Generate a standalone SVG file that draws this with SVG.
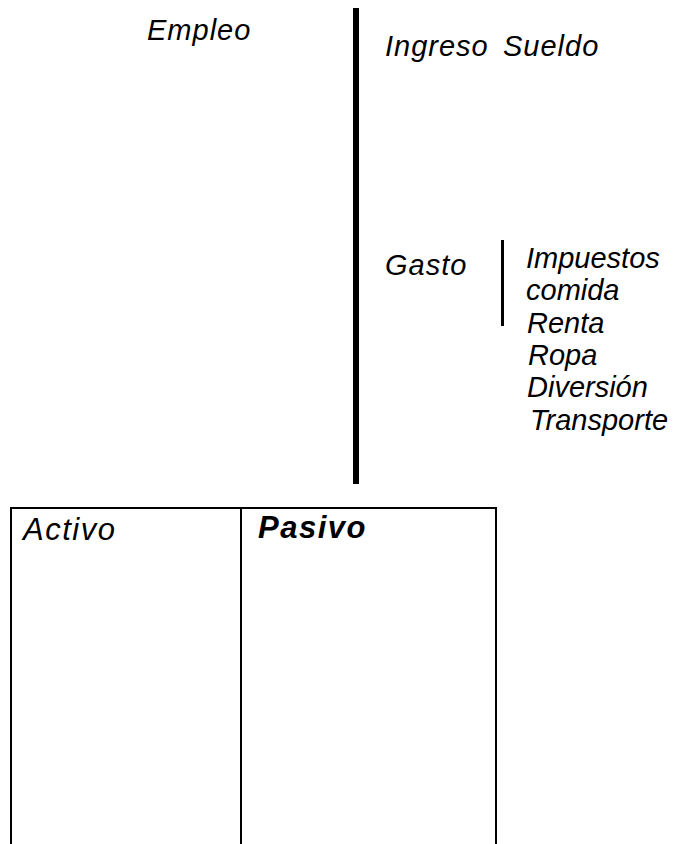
<svg xmlns="http://www.w3.org/2000/svg" width="679" height="844" viewBox="0 0 679 844">
<style>
text{font-family:"Liberation Sans",Arial,sans-serif;font-style:italic;font-size:29px;fill:#000}
.w{letter-spacing:1px}
.box{font-size:31px;letter-spacing:1.5px}
.b{font-weight:bold}
.ln{stroke:#000;fill:none}
</style>
<rect width="679" height="844" fill="#fff"/>
<g id="connectors">
<line class="ln" x1="356" y1="8" x2="356" y2="484" stroke-width="6"/>
<line class="ln" x1="502.5" y1="240" x2="502.5" y2="326" stroke-width="3"/>
</g>
<g id="empleo"><text class="w" x="147" y="40">Empleo</text></g>
<g id="ingreso"><text class="w" x="385" y="56">Ingreso</text></g>
<g id="sueldo"><text class="w" x="503" y="56">Sueldo</text></g>
<g id="gasto"><text class="w" x="385" y="275">Gasto</text></g>
<g id="gastos-lista">
<text x="526" y="268">Impuestos</text>
<text x="526" y="300">comida</text>
<text x="527" y="333">Renta</text>
<text x="528" y="365">Ropa</text>
<text x="527" y="397">Diversión</text>
<text x="530" y="430">Transporte</text>
</g>
<g id="balance">
<polyline class="ln" stroke-width="2" points="11,844 11,508 496,508 496,844"/>
<line class="ln" stroke-width="2" x1="241" y1="508" x2="241" y2="844"/>
<text class="box" x="23" y="540">Activo</text>
<text class="box b" x="258" y="538">Pasivo</text>
</g>
</svg>
